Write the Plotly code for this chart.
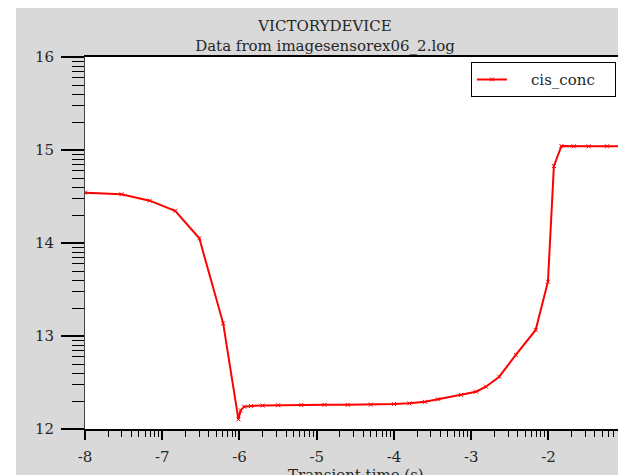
import numpy as np
import plotly.graph_objects as go

# log10 of transient time (s) and of cis concentration
time_log = [-8.0, -7.528, -7.163, -6.833, -6.52, -6.211, -6.014, -5.985, -5.94,
            -5.85, -5.7, -5.5, -5.2, -4.9, -4.6, -4.3, -4.0, -3.8, -3.6, -3.43,
            -3.131, -2.938, -2.81, -2.638, -2.423, -2.166, -2.007, -1.93, -1.832,
            -1.673, -1.48, -1.243, -1.0]
cis_conc = [14.541, 14.524, 14.455, 14.347, 14.05, 13.136, 12.104, 12.20, 12.24,
            12.248, 12.252, 12.255, 12.258, 12.26, 12.26, 12.262, 12.268, 12.276,
            12.292, 12.319, 12.366, 12.401, 12.455, 12.562, 12.796, 13.065, 13.584,
            14.828, 15.043, 15.04, 15.04, 15.04, 15.04]

x_major = [-8, -7, -6, -5, -4, -3, -2]
y_major = [12, 13, 14, 15, 16]

# decade sub-ticks at log10(2..9)
sub = np.log10(np.arange(2, 10))
x_minor = [float(d + s) for d in range(-8, -1) for s in sub]
y_minor = [float(d + s) for d in range(12, 16) for s in sub]

FONT = "DejaVu Serif"
RED = "#ff0000"
GRAY = "#d9d9d9"
TXT = "#262626"

PW, PH = 533, 372  # plotting area size in px

fig = go.Figure()
fig.add_trace(go.Scatter(
    x=time_log, y=cis_conc, name="\u00a0\u00a0\u00a0\u00a0cis_conc\u00a0\u00a0\u00a0",
    mode="lines+markers",
    line=dict(color=RED, width=2),
    marker=dict(symbol="x-thin", size=4, line=dict(color=RED, width=1), color=RED),
))

fig.update_layout(
    width=618, height=475,
    margin=dict(l=85, r=0, t=57, b=46),
    paper_bgcolor="white", plot_bgcolor="white",
    font=dict(family=FONT, size=15, color=TXT),
    title=dict(text="VICTORYDEVICE<br>Data from imagesensorex06_2.log",
               x=325 / 618, xref="container", xanchor="center",
               y=1 - 31 / 475, yref="container", yanchor="middle",
               font=dict(family=FONT, size=15, color=TXT)),
    showlegend=True,
    legend=dict(x=0.724, y=0.986, xanchor="left", yanchor="top",
                bgcolor="white", bordercolor="black", borderwidth=1,
                font=dict(family=FONT, size=15, color=TXT)),
    xaxis=dict(range=[-8, -1.1], tickmode="array", tickvals=x_major,
               ticktext=[str(v) for v in x_major],
               showgrid=False, zeroline=False,
               showline=True, linecolor="black", linewidth=2, mirror=True,
               ticks="outside", ticklen=9, tickwidth=2, tickcolor="black",
               ticklabelstandoff=4,
               minor=dict(tickmode="array", tickvals=x_minor, ticks="outside",
                          ticklen=6, tickwidth=1, tickcolor="black", showgrid=False),
               automargin=False),
    yaxis=dict(range=[12, 16], tickmode="array", tickvals=y_major,
               ticktext=[str(v) for v in y_major],
               showgrid=False, zeroline=False,
               showline=True, linecolor="#444", linewidth=1,
               ticks="outside", ticklen=23, tickwidth=2, tickcolor="black",
               ticklabelstandoff=4,
               minor=dict(tickmode="array", tickvals=y_minor, ticks="outside",
                          ticklen=12, tickwidth=1, tickcolor="black", showgrid=False),
               automargin=False),
    annotations=[
        dict(text="Transient time (s)", xref="paper", yref="paper",
             x=271 / PW, y=-35 / PH, xanchor="center", yanchor="top",
             showarrow=False, font=dict(family=FONT, size=15, color=TXT)),
    ],
    shapes=[
        # grey frame, leaving a thin white border at the top and left
        dict(type="rect", xref="paper", yref="paper", layer="below",
             x0=-69 / PW, x1=1.2, y0=-60 / PH, y1=(PH + 49) / PH,
             fillcolor=GRAY, line=dict(width=0)),
        # white plotting area on top of the frame
        dict(type="rect", xref="paper", yref="paper", layer="below",
             x0=0, x1=1.2, y0=0, y1=1,
             fillcolor="white", line=dict(width=0)),
    ],
)

fig.write_html("out.html")
